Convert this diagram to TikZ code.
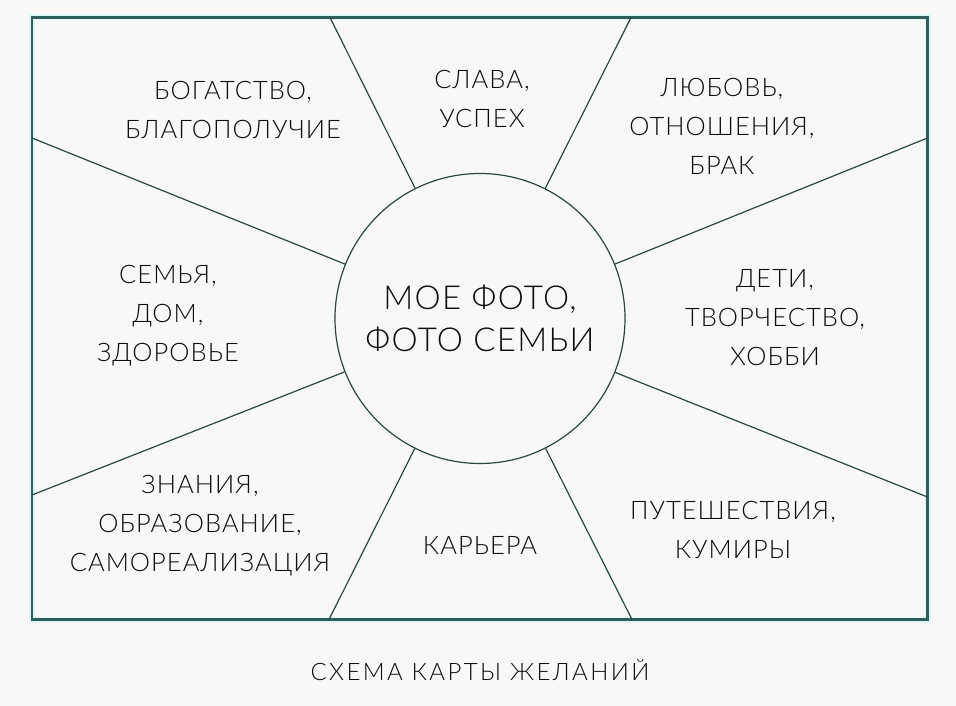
\documentclass[tikz,border=0pt]{standalone}
\usepackage{fontspec}
\setmainfont{Lato Light}[LetterSpace=4]
\begin{document}
\begin{tikzpicture}[x=1pt,y=-1pt,
  frame/.style={draw=framec,line width=2.4pt},
  halo/.style={draw=haloc,line width=6pt},
  spoke/.style={draw=spokec,line width=1.2pt},
  lbl/.style={align=center,text=txt,font=\fontsize{25.5}{39}\selectfont,inner sep=0pt},
  bigl/.style={align=center,text=txt,font=\fontsize{33}{42}\selectfont,inner sep=0pt},
  capl/.style={text=txt,font=\fontsize{24}{26}\selectfont\addfontfeature{LetterSpace=10},inner sep=0pt}]
\definecolor{framec}{HTML}{2F5F5B}
\definecolor{haloc}{HTML}{DDF6F5}
\definecolor{spokec}{HTML}{2A4746}
\definecolor{txt}{HTML}{0C0C0C}
\definecolor{bgc}{HTML}{F8F8F8}
\fill[bgc] (0,0) rectangle (956,706);
\useasboundingbox (0,0) rectangle (956,706);
% frame
\draw[halo] (32,17.5) rectangle (927.5,619.5);
\draw[frame] (32,17.5) rectangle (927.5,619.5);
% circle
\node[circle,draw=spokec,line width=1.2pt,minimum size=290pt,inner sep=0pt,bigl] (c) at (480,318.5) {МОЕ ФОТО,\\ФОТО СЕМЬИ};
% border points
\coordinate (b1) at (330,17.5);
\coordinate (b2) at (631,17.5);
\coordinate (b3) at (32,138);
\coordinate (b4) at (927.5,138);
\coordinate (b5) at (32,495);
\coordinate (b6) at (927.5,497);
\coordinate (b7) at (329,619.5);
\coordinate (b8) at (632,619.5);
\foreach \b in {b1,b2,b3,b4,b5,b6,b7,b8} \draw[spoke] (\b) -- (c);
% labels
\node[lbl] (t1) at (233,110) {БОГАТСТВО,\\БЛАГОПОЛУЧИЕ};
\node[lbl] (t2) at (482,99) {СЛАВА,\\УСПЕХ};
\node[lbl] (t3) at (722,126) {ЛЮБОВЬ,\\ОТНОШЕНИЯ,\\БРАК};
\node[lbl] (t4) at (168,316) {СЕМЬЯ,\\ДОМ,\\ЗДОРОВЬЕ};
\node[lbl] (t5) at (775,318) {ДЕТИ,\\ТВОРЧЕСТВО,\\ХОББИ};
\node[lbl] (t6) at (200,526) {ЗНАНИЯ,\\ОБРАЗОВАНИЕ,\\САМОРЕАЛИЗАЦИЯ};
\node[lbl] (t7) at (480,545) {КАРЬЕРА};
\node[lbl] (t8) at (733,530) {ПУТЕШЕСТВИЯ,\\КУМИРЫ};
\node[capl] (cap) at (480,670) {СХЕМА КАРТЫ ЖЕЛАНИЙ};
\end{tikzpicture}
\end{document}
